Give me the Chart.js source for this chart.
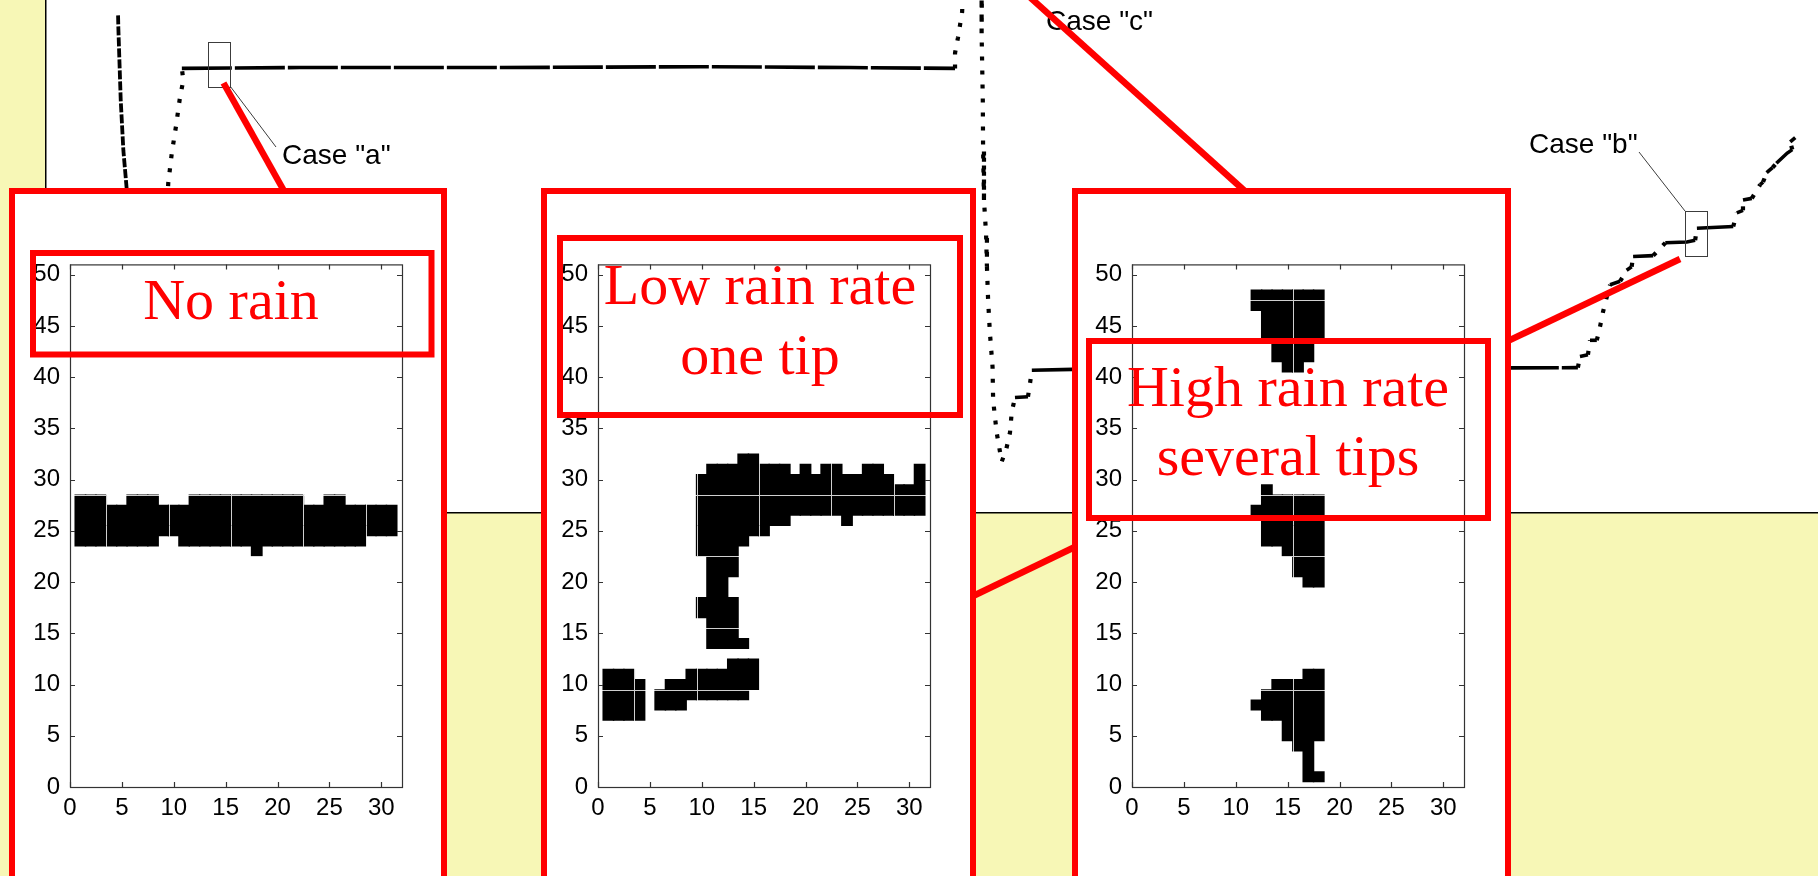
<!DOCTYPE html>
<html>
<head>
<meta charset="utf-8">
<script src="https://cdn.jsdelivr.net/npm/chart.js@4.4.1/dist/chart.umd.min.js"></script>
<style>
  html, body { margin: 0; padding: 0; }
  body {
    width: 1818px; height: 876px; overflow: hidden; position: relative;
    background: #f7f7b6;
    font-family: "Liberation Sans", Arial, sans-serif;
  }
  #panel { position: absolute; left: 46px; top: 0; width: 1772px; height: 513px; background: #fff; }
  #trace { position: absolute; left: 40px; top: 0; }
  .zoom-box {
    position: absolute; top: 188px; height: 760px;
    box-sizing: border-box; border: 6.5px solid #ff0000; background: #fff;
  }
  .inset { position: absolute; top: 240px; }
  svg { position: absolute; left: 0; top: 0; }
</style>
</head>
<body>
<div id="panel"></div>
<canvas id="trace" width="1778" height="520"></canvas>

<svg width="1818" height="876">
  <g fill="none" stroke="#3c3c3c" stroke-width="1">
    <rect x="208.5" y="42.5" width="22" height="45"/>
    <rect x="1685.5" y="211.5" width="22" height="45"/>
    <line x1="230" y1="86" x2="276" y2="147"/>
    <line x1="1639" y1="152" x2="1685" y2="211"/>
    <line x1="1031" y1="0" x2="1043" y2="12"/>
  </g>
  <g font-family="Liberation Sans, Arial, sans-serif" font-size="28" fill="#000">
    <text x="282" y="164">Case "a"</text>
    <text x="1529" y="152.5">Case "b"</text>
    <text x="1046" y="29.5">Case "c"</text>
  </g>
  <g stroke="#ff0000" stroke-width="6.5">
    <line x1="223.5" y1="83" x2="286.3" y2="195"/>
    <line x1="1029.7" y1="-3" x2="1250.3" y2="196"/>
    <line x1="1505" y1="342.4" x2="1680" y2="259"/>
    <line x1="970" y1="597.5" x2="1080" y2="544.5"/>
  </g>
</svg>

<div class="zoom-box" style="left:9px; width:437.5px;"></div>
<div class="zoom-box" style="left:541px; width:435px;"></div>
<div class="zoom-box" style="left:1072px; width:439px;"></div>

<canvas class="inset" id="noRain" width="406" height="597" style="left:8px;"></canvas>
<canvas class="inset" id="lowRate" width="406" height="597" style="left:536px;"></canvas>
<canvas class="inset" id="highRate" width="406" height="597" style="left:1070px;"></canvas>

<svg width="1818" height="876">
  <g fill="none" stroke="#ff0000" stroke-width="6">
    <rect x="33" y="253" width="398.5" height="101.5"/>
    <rect x="560" y="238" width="400" height="177"/>
    <rect x="1089" y="341" width="399" height="177"/>
  </g>
  <g font-family="Liberation Serif, Times New Roman, serif" font-size="58" fill="#ff0000" text-anchor="middle">
    <text x="231" y="319">No rain</text>
    <text x="760" y="304">Low rain rate</text>
    <text x="760" y="374">one tip</text>
    <text x="1288" y="405.5">High rain rate</text>
    <text x="1288" y="475">several tips</text>
  </g>
</svg>

<script>
// gauge level trace (minutes, mm); the siphon empties off the top of the plot
const drainTime1 = [24.4, 24.5, 25.3, 26.2, 27.3, 27.8];
const drainLevel1 = [58.2, 56.7, 48.3, 42.4, 38.0, 35.4];

const fillTime1 = [41.1, 41.4, 42.6, 44.0, 45.4, 46.5, 46.0, 86.0, 153.7, 221.4, 272.2, 307.8,
  307.8, 308.8, 309.5, 310.2, 310.5];
const fillLevel1 = [36.6, 38.6, 42.1, 45.2, 48.7, 50.6, 52.0, 52.1, 52.1, 52.2, 52.1, 52.0,
  53.8, 55.6, 57.1, 58.6, 61.2];

const fillTime2 = [316.9, 316.8, 317.2, 317.3, 317.6, 318.3, 318.6, 319.0, 319.6, 320.5, 320.7,
  321.9, 323.6, 325.1, 326.4, 327.0, 328.1, 332.5, 333.2, 333.8, 347.7, 518.7, 519.4, 522.1,
  522.8, 525.1, 526.2, 527.2, 528.5, 529.6, 533.0, 535.2, 536.9, 537.4, 544.2, 548.3, 555.6,
  558.4, 559.0, 571.3, 572.5, 574.6, 574.6, 577.6, 580.4, 581.4, 582.6, 584.6, 585.9, 589.6,
  591.3, 590.6, 592.3];
const fillLevel2 = [61.2, 56.1, 48.3, 42.5, 36.6, 32.7, 28.8, 24.9, 21.1, 17.1, 13.2,
  9.4, 6.0, 7.4, 9.4, 11.8, 13.5, 13.6, 15.2, 16.7, 16.8, 17.0, 18.3, 18.5,
  20.2, 20.2, 21.8, 23.5, 25.3, 26.7, 27.1, 28.4, 28.8, 30.0, 30.1, 31.6, 31.7,
  31.9, 33.3, 33.5, 35.1, 35.4, 36.6, 36.8, 38.4, 38.7, 39.8, 40.4, 40.9, 42.1,
  42.5, 43.4, 43.9];

// detector images: [column, first row, last row] of dark cells
const noRainRuns = [
  [1, 24, 28], [2, 24, 28], [3, 24, 28], [4, 24, 27], [5, 24, 27], [6, 24, 28], [7, 24, 28],
  [8, 24, 28], [9, 25, 27], [10, 25, 27], [11, 24, 27], [12, 24, 28], [13, 24, 28], [14, 24, 28],
  [15, 24, 28], [16, 24, 28], [17, 24, 28], [18, 23, 28], [19, 24, 28], [20, 24, 28], [21, 24, 28],
  [22, 24, 28], [23, 24, 27], [24, 24, 27], [25, 24, 28], [26, 24, 28], [27, 24, 27], [28, 24, 27],
  [29, 25, 27], [30, 25, 27], [31, 25, 27]
];
const lowRateRuns = [
  [1, 7, 11], [2, 7, 11], [3, 7, 11], [4, 7, 10],
  [6, 8, 9], [7, 8, 10], [8, 8, 10], [9, 9, 11],
  [10, 9, 11], [10, 17, 18], [10, 23, 30],
  [11, 9, 11], [11, 14, 31],
  [12, 9, 11], [12, 14, 31],
  [13, 9, 12], [13, 14, 18], [13, 21, 31],
  [14, 9, 12], [14, 14, 14], [14, 24, 32],
  [15, 10, 12], [15, 25, 32],
  [16, 25, 31], [17, 26, 31], [18, 26, 31], [19, 27, 30], [20, 27, 31], [21, 27, 30],
  [22, 27, 31], [23, 27, 31], [24, 26, 30], [25, 27, 30], [26, 27, 31], [27, 27, 31],
  [28, 27, 30], [29, 27, 29], [30, 27, 29], [31, 27, 31]
];
const highRateRuns = [
  [12, 8, 8], [12, 27, 27], [12, 47, 48],
  [13, 7, 9], [13, 24, 29], [13, 44, 48],
  [14, 7, 10], [14, 24, 28], [14, 42, 48],
  [15, 5, 10], [15, 23, 28], [15, 41, 48],
  [16, 4, 10], [16, 21, 28], [16, 41, 48],
  [17, 1, 11], [17, 20, 28], [17, 42, 48],
  [18, 1, 1], [18, 5, 11], [18, 20, 28], [18, 44, 48]
];

const xTicks = [0, 5, 10, 15, 20, 25, 30];
const yTicks = [0, 5, 10, 15, 20, 25, 30, 35, 40, 45, 50];
// patch edges that show up as thin light lines across the cells
const seamCols = [3.5, 9.5, 15.5, 22.5, 28.5];
const seamRows = [9.5, 15.5, 22.5, 28.5, 47.5];

Chart.defaults.font.family = "'Liberation Sans', Arial, sans-serif";
Chart.defaults.color = '#000';

function toPoints(xs, ys) {
  return xs.map((x, i) => ({ x: x, y: ys[i] }));
}

// steep parts of the trace are sparse samples, flat parts nearly continuous
const isSteep = ctx => Math.abs(ctx.p1.y - ctx.p0.y) > Math.abs(ctx.p1.x - ctx.p0.x);
const traceSegment = {
  borderDash: ctx => isSteep(ctx) ? [4, 10] : [50, 3],
  borderWidth: ctx => isSteep(ctx) ? 4.2 : 3.6
};

const bareAxis = (min, max) => ({
  type: 'linear', min: min, max: max,
  ticks: { display: false },
  grid: { display: false, drawTicks: false },
  border: { display: true, color: '#000', width: 1.5 }
});

new Chart(document.getElementById('trace'), {
  type: 'line',
  data: {
    datasets: [
      { data: toPoints(drainTime1, drainLevel1), borderDash: [9, 2], borderWidth: 3.8 },
      { data: toPoints(fillTime1, fillLevel1), segment: traceSegment },
      { data: toPoints(fillTime2, fillLevel2), segment: traceSegment }
    ].map(d => Object.assign({
      borderColor: '#000', borderWidth: 3.6, pointRadius: 0, tension: 0, fill: false
    }, d))
  },
  options: {
    responsive: false, animation: false, devicePixelRatio: 1,
    layout: { padding: { left: 6, bottom: 7, top: 0, right: 0 } },
    plugins: { legend: { display: false }, tooltip: { enabled: false } },
    scales: { x: bareAxis(0, 600), y: bareAxis(0, 60) }
  }
});

// light seams are only painted where a cell is already drawn
const cellSeams = {
  id: 'cellSeams',
  afterDatasetsDraw(chart) {
    const { ctx, chartArea: a, scales } = chart;
    const x = scales.x, y = scales.y;
    ctx.save();
    ctx.globalCompositeOperation = 'source-atop';
    ctx.strokeStyle = '#cfcfcf';
    ctx.lineWidth = 1;
    ctx.beginPath();
    seamCols.forEach(v => {
      const px = Math.round(x.getPixelForValue(v)) + 0.5;
      ctx.moveTo(px, a.top); ctx.lineTo(px, a.bottom);
    });
    seamRows.forEach(v => {
      const py = Math.round(y.getPixelForValue(v)) + 0.5;
      ctx.moveTo(a.left, py); ctx.lineTo(a.right, py);
    });
    ctx.stroke();
    ctx.restore();
  }
};

// MATLAB-style box with inward ticks on all four sides
const boxFrame = {
  id: 'boxFrame',
  afterDraw(chart) {
    const { ctx, chartArea: a, scales } = chart;
    const x = scales.x, y = scales.y;
    ctx.save();
    ctx.strokeStyle = '#333';
    ctx.lineWidth = 1.2;
    ctx.strokeRect(a.left + 0.5, a.top + 0.5, a.right - a.left, a.bottom - a.top);
    ctx.beginPath();
    x.ticks.forEach(t => {
      const px = Math.round(x.getPixelForValue(t.value)) + 0.5;
      ctx.moveTo(px, a.bottom); ctx.lineTo(px, a.bottom - 5);
      ctx.moveTo(px, a.top); ctx.lineTo(px, a.top + 5);
    });
    y.ticks.forEach(t => {
      const py = Math.round(y.getPixelForValue(t.value)) + 0.5;
      ctx.moveTo(a.left, py); ctx.lineTo(a.left + 5, py);
      ctx.moveTo(a.right, py); ctx.lineTo(a.right - 5, py);
    });
    ctx.stroke();
    ctx.restore();
  }
};

const fixedTicks = values => scale => { scale.ticks = values.map(v => ({ value: v })); };

function drawCells(id, runs) {
  new Chart(document.getElementById(id), {
    type: 'bar',
    data: {
      datasets: [{
        data: runs.map(r => ({ x: r[0], y: [r[1] - 0.5, r[2] + 0.5] })),
        backgroundColor: '#000',
        borderWidth: 0,
        barPercentage: 1.06,
        categoryPercentage: 1,
        inflateAmount: 0.4
      }]
    },
    options: {
      responsive: false, animation: false, devicePixelRatio: 1,
      layout: { padding: { top: 20, right: 12, left: 0, bottom: 0 } },
      plugins: { legend: { display: false }, tooltip: { enabled: false } },
      scales: {
        x: {
          type: 'linear', min: 0, max: 32, offset: false,
          afterBuildTicks: fixedTicks(xTicks),
          afterFit: s => { s.height = 50; },
          grid: { display: false, drawTicks: false, offset: false },
          border: { display: false },
          ticks: { font: { size: 24 }, padding: 7, maxRotation: 0 }
        },
        y: {
          type: 'linear', min: 0, max: 51,
          afterBuildTicks: fixedTicks(yTicks),
          afterFit: s => { s.width = 62; },
          grid: { display: false, drawTicks: false },
          border: { display: false },
          ticks: { font: { size: 24 }, padding: 10 }
        }
      }
    },
    plugins: [cellSeams, boxFrame]
  });
}

drawCells('noRain', noRainRuns);
drawCells('lowRate', lowRateRuns);
drawCells('highRate', highRateRuns);
</script>
</body>
</html>
